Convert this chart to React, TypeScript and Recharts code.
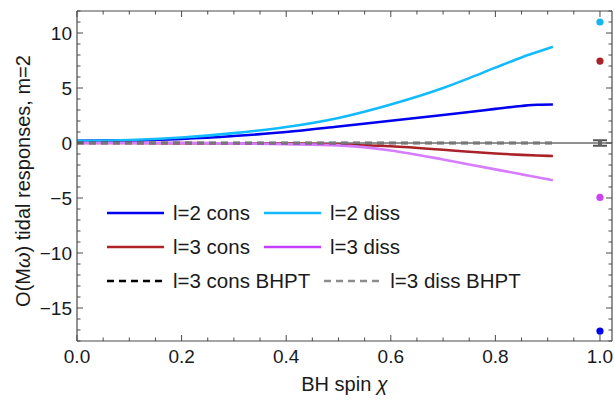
import React from 'react';
import {
  ComposedChart,
  Line,
  Scatter,
  XAxis,
  YAxis,
  ReferenceLine,
  Legend,
  ErrorBar,
} from 'recharts';

// ---------- data ----------
const chi = [0, 0.1, 0.2, 0.3, 0.4, 0.5, 0.6, 0.7, 0.75, 0.8, 0.85, 0.88, 0.91];
const l2Cons = [0.2, 0.24, 0.37, 0.63, 1.0, 1.5, 2.02, 2.55, 2.82, 3.1, 3.37, 3.48, 3.5];
const l2Diss = [0.2, 0.27, 0.5, 0.9, 1.45, 2.28, 3.5, 5.0, 5.9, 6.85, 7.78, 8.27, 8.75];
const l3Cons = [0, 0, -0.01, -0.02, -0.05, -0.13, -0.3, -0.62, -0.8, -0.96, -1.08, -1.14, -1.18];
const l3Diss = [0, 0, -0.01, -0.03, -0.1, -0.22, -0.68, -1.5, -1.95, -2.4, -2.85, -3.12, -3.39];
const l3ConsBHPT = [0, 0, 0, 0, 0, 0, 0, 0, 0, 0, 0, 0, 0];
const l3DissBHPT = [0, 0, 0, 0, 0, 0, 0, 0, 0, 0, 0, 0, 0];

const extremalChi = 1.0;
const extremalL2Cons = -17.1;
const extremalL2Diss = 11.0;
const extremalL3Cons = 7.45;
const extremalL3Diss = -4.95;
const extremalBHPT = 0;
const extremalBHPTErr = 0.25;

const xMajorTicks = [0, 0.2, 0.4, 0.6, 0.8, 1.0];
const xMinorTicks = [0.05, 0.1, 0.15, 0.25, 0.3, 0.35, 0.45, 0.5, 0.55, 0.65, 0.7, 0.75, 0.85, 0.9, 0.95];
const yMajorTicks = [-15, -10, -5, 0, 5, 10];
const yMinorTicks = [-18, -17, -16, -14, -13, -12, -11, -9, -8, -7, -6, -4, -3, -2, -1, 1, 2, 3, 4, 6, 7, 8, 9, 11, 12];

const legendRows = [
  [
    { label: 'l=2 cons', color: '#0000F0', dash: undefined },
    { label: 'l=2 diss', color: '#12BAFF', dash: undefined },
  ],
  [
    { label: 'l=3 cons', color: '#B02428', dash: undefined },
    { label: 'l=3 diss', color: '#C840FF', dash: undefined },
  ],
  [
    { label: 'l=3 cons BHPT', color: '#000000', dash: '7 5' },
    { label: 'l=3 diss BHPT', color: '#8C8C8C', dash: '7 5' },
  ],
];

// ---------- helpers ----------
const rows = chi.map((c, i) => ({
  chi: c,
  l2Cons: l2Cons[i],
  l2Diss: l2Diss[i],
  l3Cons: l3Cons[i],
  l3Diss: l3Diss[i],
  l3ConsBHPT: l3ConsBHPT[i],
  l3DissBHPT: l3DissBHPT[i],
}));

const xAllTicks = [...xMajorTicks, ...xMinorTicks].sort((a, b) => a - b);
const yAllTicks = [...yMajorTicks, ...yMinorTicks].sort((a, b) => a - b);
const isMajor = (v: number, majors: number[]) => majors.some((m) => Math.abs(m - v) < 1e-9);

const FONT = '"Liberation Sans", Arial, Helvetica, sans-serif';
const FRAME = '#4a4a4a';
const TEXT = '#1a1a1a';
const TICK_FS = 19;
const LABEL_FS = 20;
const LEGEND_FS = 20.5;
const MAJOR_LEN = 6;
const MINOR_LEN = 3.5;
const X_DOMAIN: [number, number] = [0, 1.023];
const Y_DOMAIN: [number, number] = [-18, 12];

const fmtY = (v: number) => (v < 0 ? '\u2212' + Math.abs(v) : String(v));
const fmtX = (v: number) => v.toFixed(1);

const BottomTick = (p: any) => {
  const v = p.payload.value;
  const major = isMajor(v, xMajorTicks);
  return (
    <g>
      <line x1={p.x} y1={p.y} x2={p.x} y2={p.y - (major ? MAJOR_LEN : MINOR_LEN)} stroke={FRAME} strokeWidth={1} />
      {major && (
        <text x={p.x} y={p.y + 9} dy="0.71em" textAnchor="middle" fill={TEXT} fontSize={TICK_FS} fontFamily={FONT}>
          {fmtX(v)}
        </text>
      )}
    </g>
  );
};

const TopTick = (p: any) => {
  const v = p.payload.value;
  const major = isMajor(v, xMajorTicks);
  return <line x1={p.x} y1={p.y} x2={p.x} y2={p.y + (major ? MAJOR_LEN : MINOR_LEN)} stroke={FRAME} strokeWidth={1} />;
};

const LeftTick = (p: any) => {
  const v = p.payload.value;
  const major = isMajor(v, yMajorTicks);
  return (
    <g>
      <line x1={p.x} y1={p.y} x2={p.x + (major ? MAJOR_LEN : MINOR_LEN)} y2={p.y} stroke={FRAME} strokeWidth={1} />
      {major && (
        <text x={p.x - 5} y={p.y} dy="0.355em" textAnchor="end" fill={TEXT} fontSize={TICK_FS} fontFamily={FONT}>
          {fmtY(v)}
        </text>
      )}
    </g>
  );
};

const RightTick = (p: any) => {
  const v = p.payload.value;
  const major = isMajor(v, yMajorTicks);
  return <line x1={p.x} y1={p.y} x2={p.x - (major ? MAJOR_LEN : MINOR_LEN)} y2={p.y} stroke={FRAME} strokeWidth={1} />;
};

const dot = (color: string) => (p: any) => <circle cx={p.cx} cy={p.cy} r={3.6} fill={color} />;

const LegendBox = () => (
  <div style={{ fontFamily: FONT, fontSize: LEGEND_FS, color: TEXT }}>
    {legendRows.map((row, ri) => (
      <div key={ri} style={{ display: 'flex', alignItems: 'center', height: 34 }}>
        {row.map((it, ii) => (
          <div key={ii} style={{ display: 'flex', alignItems: 'center', marginRight: 14 }}>
            <svg width={57} height={10} style={{ display: 'block' }}>
              <line x1={0} y1={5} x2={57} y2={5} stroke={it.color} strokeWidth={2.6} strokeDasharray={it.dash} />
            </svg>
            <span style={{ marginLeft: 9, whiteSpace: 'nowrap', lineHeight: '22px' }}>{it.label}</span>
          </div>
        ))}
      </div>
    ))}
  </div>
);

const axisLineStyle = { stroke: FRAME, strokeWidth: 1.2 };

export default function App() {
  return (
    <div style={{ position: 'absolute', left: 0, top: 0, width: 614, height: 403, background: '#fff', fontFamily: FONT }}>
      <ComposedChart
        width={614}
        height={403}
        data={rows}
        margin={{ top: 10, right: 1, bottom: 61, left: 76 }}
      >
        <XAxis
          xAxisId="x"
          dataKey="chi"
          type="number"
          domain={X_DOMAIN}
          allowDataOverflow
          ticks={xAllTicks}
          interval={0}
          height={1}
          tickSize={0}
          tickMargin={0}
          axisLine={axisLineStyle}
          tickLine={false}
          tick={BottomTick}
        />
        <XAxis
          xAxisId="xt"
          orientation="top"
          dataKey="chi"
          type="number"
          domain={X_DOMAIN}
          allowDataOverflow
          ticks={xAllTicks}
          interval={0}
          height={1}
          tickSize={0}
          tickMargin={0}
          axisLine={axisLineStyle}
          tickLine={false}
          tick={TopTick}
        />
        <YAxis
          yAxisId="y"
          type="number"
          domain={Y_DOMAIN}
          allowDataOverflow
          ticks={yAllTicks}
          interval={0}
          width={1}
          tickSize={0}
          tickMargin={0}
          axisLine={axisLineStyle}
          tickLine={false}
          tick={LeftTick}
        />
        <YAxis
          yAxisId="yr"
          orientation="right"
          type="number"
          domain={Y_DOMAIN}
          allowDataOverflow
          ticks={yAllTicks}
          interval={0}
          width={1}
          tickSize={0}
          tickMargin={0}
          axisLine={axisLineStyle}
          tickLine={false}
          tick={RightTick}
        />

        <ReferenceLine xAxisId="x" yAxisId="y" y={0} stroke="#222" strokeWidth={1} />

        <Line xAxisId="x" yAxisId="y" type="monotone" dataKey="l2Cons" stroke="#0000F0" strokeWidth={2.6} dot={false} isAnimationActive={false} />
        <Line xAxisId="x" yAxisId="y" type="monotone" dataKey="l2Diss" stroke="#12BAFF" strokeWidth={2.6} dot={false} isAnimationActive={false} />
        <Line xAxisId="x" yAxisId="y" type="monotone" dataKey="l3Cons" stroke="#A82228" strokeWidth={2.6} dot={false} isAnimationActive={false} />
        <Line xAxisId="x" yAxisId="y" type="monotone" dataKey="l3Diss" stroke="#D67CFF" strokeWidth={2.6} dot={false} isAnimationActive={false} />
        <Line xAxisId="x" yAxisId="y" type="monotone" dataKey="l3ConsBHPT" stroke="#000" strokeWidth={2.6} strokeDasharray="7 5" dot={false} isAnimationActive={false} />
        <Line xAxisId="x" yAxisId="y" type="monotone" dataKey="l3DissBHPT" stroke="#777" strokeWidth={2.6} strokeDasharray="7 5" dot={false} isAnimationActive={false} />

        <Scatter xAxisId="x" yAxisId="y" data={[{ chi: extremalChi, v: extremalL2Diss }]} dataKey="v" shape={dot('#16B4F2')} isAnimationActive={false} />
        <Scatter xAxisId="x" yAxisId="y" data={[{ chi: extremalChi, v: extremalL3Cons }]} dataKey="v" shape={dot('#A82228')} isAnimationActive={false} />
        <Scatter xAxisId="x" yAxisId="y" data={[{ chi: extremalChi, v: extremalL3Diss }]} dataKey="v" shape={dot('#CC44F0')} isAnimationActive={false} />
        <Scatter xAxisId="x" yAxisId="y" data={[{ chi: extremalChi, v: extremalL2Cons }]} dataKey="v" shape={dot('#0000F0')} isAnimationActive={false} />
        <Scatter
          xAxisId="x"
          yAxisId="y"
          data={[{ chi: extremalChi, v: extremalBHPT, err: extremalBHPTErr }]}
          dataKey="v"
          shape={(p: any) => <rect x={p.cx - 2} y={p.cy - 2.5} width={4} height={5} fill="#666" />}
          isAnimationActive={false}
        >
          <ErrorBar dataKey="err" direction="y" width={7} stroke="#555" strokeWidth={2} />
        </Scatter>

        <Legend
          layout="horizontal"
          verticalAlign="middle"
          align="center"
          wrapperStyle={{ position: 'absolute', left: 107, top: 196, width: 430, height: 102 }}
          content={() => <LegendBox />}
        />
      </ComposedChart>

      {/* axis titles */}
      <div
        style={{
          position: 'absolute',
          left: 77,
          width: 535,
          top: 372,
          textAlign: 'center',
          fontSize: LABEL_FS,
          color: TEXT,
          lineHeight: '24px',
        }}
      >
        BH spin <i>{'\u03C7'}</i>
      </div>
      <div
        style={{
          position: 'absolute',
          left: 23 - 160,
          top: 181 - 12,
          width: 320,
          height: 24,
          lineHeight: '24px',
          textAlign: 'center',
          fontSize: LABEL_FS,
          color: TEXT,
          transform: 'rotate(-90deg)',
          whiteSpace: 'nowrap',
        }}
      >
        O(M<i>{'\u03C9'}</i>) tidal responses, m=2
      </div>
    </div>
  );
}
